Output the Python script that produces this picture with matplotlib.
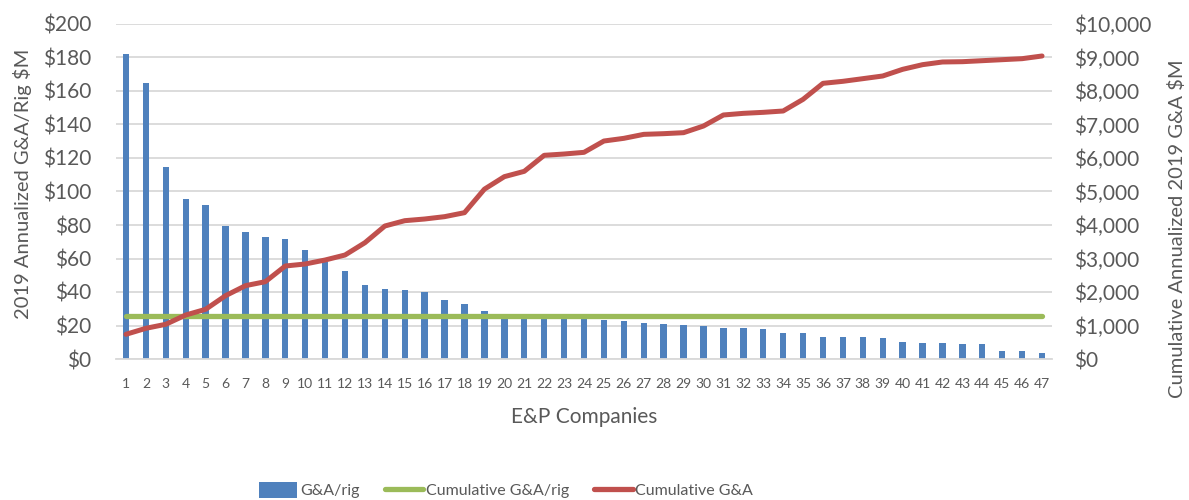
import matplotlib
matplotlib.use("Agg")
import matplotlib.pyplot as plt
from matplotlib.patches import Patch
from matplotlib.lines import Line2D

plt.rcParams['font.family'] = ['Lato', 'DejaVu Sans']

companies = [str(i) for i in range(1, 48)]
ga_per_rig = [182, 164.6, 114.4, 95.3, 92.1, 79.4, 76, 72.6, 71.6, 64.9,
              58.1, 52.4, 44.4, 41.6, 41.4, 40, 35, 32.6, 28.8, 24.5,
              24.3, 24.2, 24.1, 24.0, 23.3, 22.5, 21.3, 20.7, 20.3, 19.5,
              18.7, 18.3, 18.1, 15.5, 15.5, 13.3, 12.9, 12.9, 12.3, 9.9,
              9.3, 9.3, 9.1, 9.0, 5.0, 4.8, 3.8]
cum_ga_per_rig = [25.8] * 47
cum_ga = [737, 916, 1036, 1313, 1483, 1890, 2189, 2308, 2776, 2836,
          2955, 3104, 3472, 3970, 4129, 4179, 4249, 4368, 5070, 5443,
          5602, 6080, 6119, 6169, 6507, 6587, 6706, 6726, 6756, 6955,
          7284, 7333, 7363, 7403, 7751, 8229, 8289, 8368, 8448, 8647,
          8786, 8866, 8875, 8905, 8935, 8965, 9045]
left_ticks = list(range(0, 201, 20))
right_ticks = list(range(0, 10001, 1000))

BLUE = '#4F81BD'
GREEN = '#9BBB59'
RED = '#C0504D'
GRID = '#D9D9D9'
TXT = '#595959'

W, H = 1189, 500
fig = plt.figure(figsize=(W / 100, H / 100), dpi=100)
ax = fig.add_axes([116 / W, 1 - 359 / H, (1052 - 116) / W, (359 - 24) / H])
ax2 = ax.twinx()
ax3 = ax.twinx()

x = list(range(1, 48))
ax.bar(x, ga_per_rig, width=0.32, color=BLUE, zorder=2)
ax.set_ylim(0, 200)
ax.set_xlim(0.5, 47.5)
ax.set_yticks(left_ticks)
ax.set_yticklabels([f"${v}" for v in left_ticks])
ax.set_xticks(x)
ax.set_xticklabels(companies)
ax.yaxis.grid(True, color=GRID, linewidth=1.3, zorder=0)
ax.set_axisbelow(True)

ax2.plot(x, cum_ga_per_rig, color=GREEN, linewidth=3.8, solid_capstyle='round')
ax2.set_ylim(0, 200)
ax2.set_yticks([])

ax3.plot(x, cum_ga, color=RED, linewidth=3.6, solid_capstyle='round', solid_joinstyle='round')
ax3.set_ylim(0, 10000)
ax3.set_yticks(right_ticks)
ax3.set_yticklabels([f"${v:,}" for v in right_ticks])

for a in (ax, ax2, ax3):
    for s in a.spines.values():
        s.set_visible(False)
    a.tick_params(length=0, colors=TXT, labelsize=15)
ax.spines['bottom'].set_visible(True)
ax.spines['bottom'].set_color(GRID)
ax.spines['bottom'].set_linewidth(1.3)
ax.tick_params(axis='x', labelsize=10, pad=14)
ax.tick_params(axis='y', pad=18)
ax3.tick_params(axis='y', pad=16)

ax.set_xlabel("E&P Companies", fontsize=15, color=TXT, labelpad=12)
fig.text(23 / W, 1 - 184 / H, "2019 Annualized G&A/Rig $M", rotation=90,
         ha='center', va='center', fontsize=14.5, color=TXT)
fig.text(1177 / W, 1 - 229 / H, "Cumulative Annualized 2019 G&A $M", rotation=90,
         ha='center', va='center', fontsize=14.5, color=TXT)

handles = [Patch(facecolor=BLUE, edgecolor='none'),
           Line2D([0], [0], color=GREEN, linewidth=3.8, solid_capstyle='round'),
           Line2D([0], [0], color=RED, linewidth=3.8, solid_capstyle='round')]
labels = ["G&A/rig", "Cumulative G&A/rig", "Cumulative G&A"]
leg = fig.legend(handles, labels, loc='center', bbox_to_anchor=(506 / W, 1 - 490 / H), ncol=3,
                 frameon=False, fontsize=11.5, handlelength=2.4, handleheight=1.2,
                 handletextpad=0.15, columnspacing=1.6)
for t in leg.get_texts():
    t.set_color(TXT)

fig.savefig("out.png", dpi=100)
